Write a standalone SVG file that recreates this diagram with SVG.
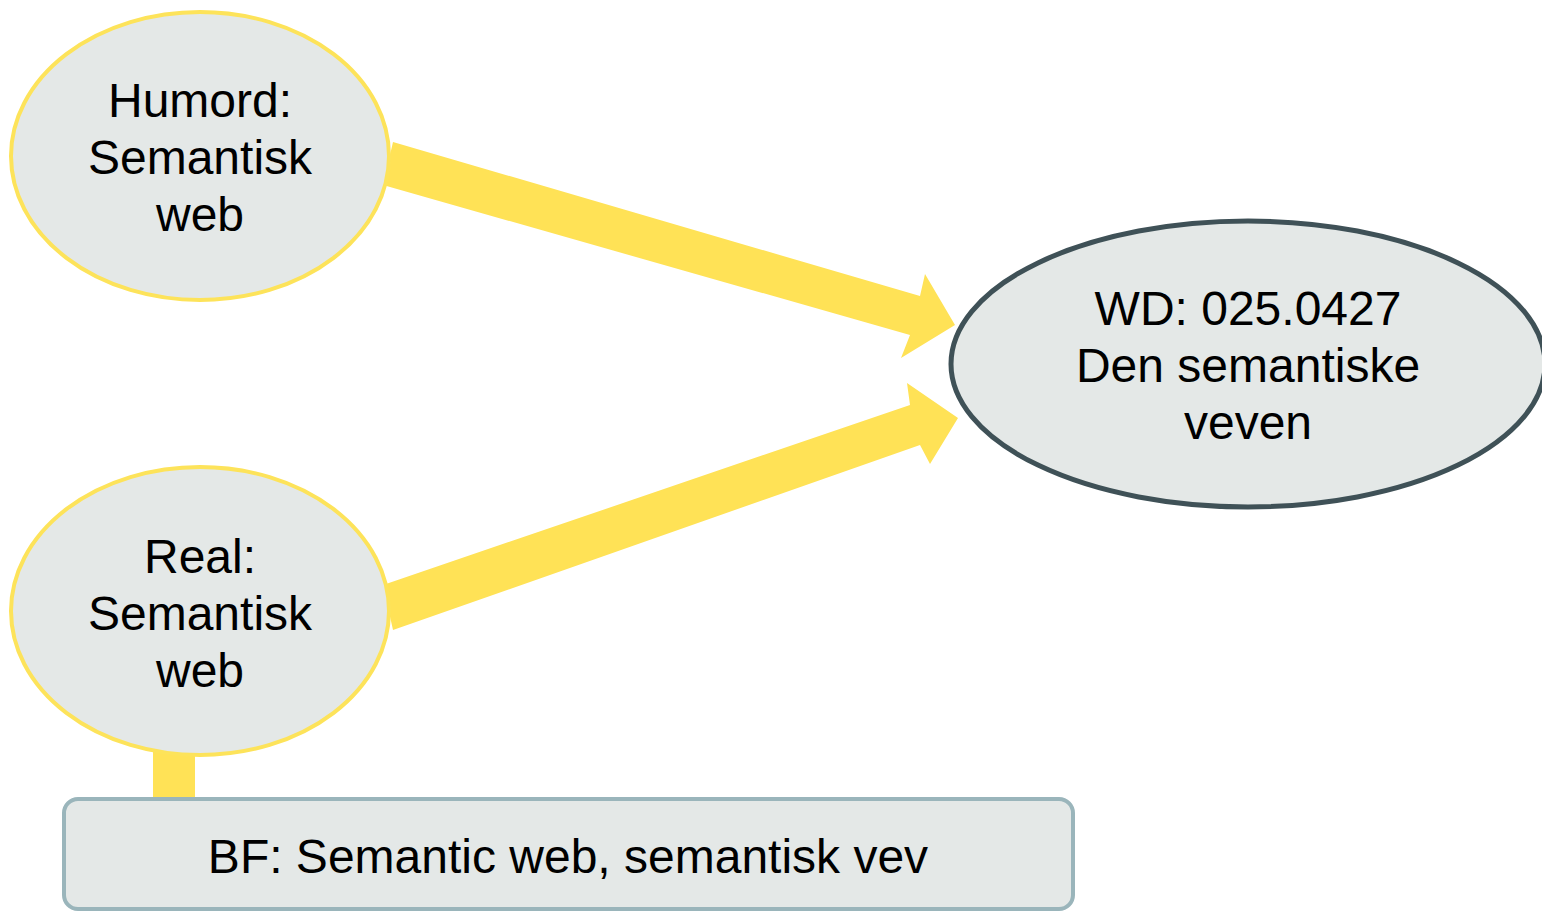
<svg xmlns="http://www.w3.org/2000/svg" width="1542" height="911" viewBox="0 0 1542 911">
<style>
.t{font-family:"Liberation Sans",Arial,sans-serif;font-size:48px;fill:#000;text-anchor:middle}
.y{fill:#e4e8e7;stroke:#fde35a;stroke-width:4}
.arr{fill:#ffe256}
</style>
<rect width="1542" height="911" fill="#fff"/>
<g id="connectors">
<polygon class="arr" points="393,142 920,296 925,274 955,325 901,358 910,335 383,185"/>
<polygon class="arr" points="383,585 910,405 907,383 958,418 930,464 920,445 393,630"/>
<rect class="arr" x="153" y="745" width="42" height="55"/>
</g>
<g id="humord">
<ellipse class="y" cx="200" cy="156" rx="189" ry="144"/>
<text class="t" x="200" y="117">Humord:</text>
<text class="t" x="200" y="174">Semantisk</text>
<text class="t" x="200" y="231">web</text>
</g>
<g id="real">
<ellipse class="y" cx="200" cy="611" rx="189" ry="144"/>
<text class="t" x="200" y="573">Real:</text>
<text class="t" x="200" y="630">Semantisk</text>
<text class="t" x="200" y="687">web</text>
</g>
<g id="wd">
<ellipse cx="1248" cy="364" rx="297" ry="143" fill="#e4e8e7" stroke="#3f5157" stroke-width="5"/>
<text class="t" x="1248" y="325">WD: 025.0427</text>
<text class="t" x="1248" y="382">Den semantiske</text>
<text class="t" x="1248" y="439">veven</text>
</g>
<g id="bf">
<rect x="64" y="799" width="1009" height="110" rx="14" fill="#e4e8e7" stroke="#9ab5bb" stroke-width="4"/>
<text class="t" x="568" y="873">BF: Semantic web, semantisk vev</text>
</g>
</svg>
